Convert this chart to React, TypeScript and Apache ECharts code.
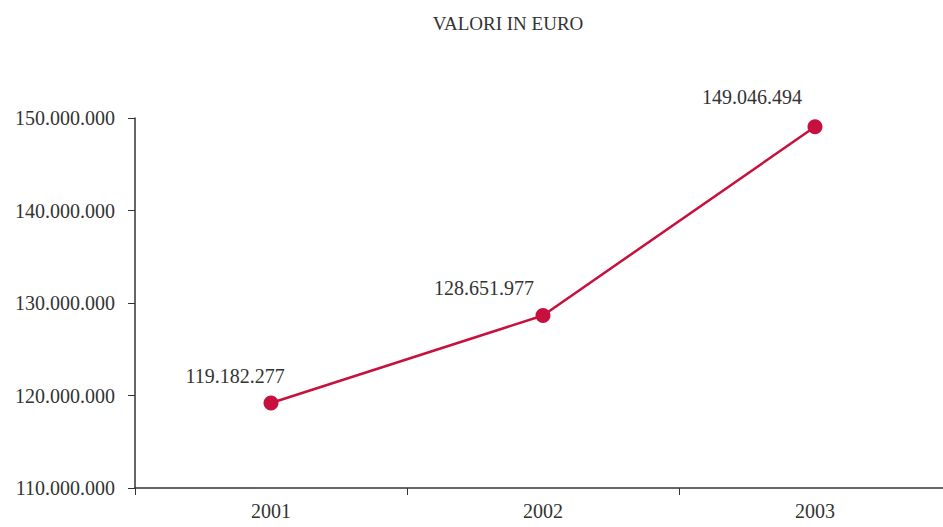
import React, { useEffect, useRef } from "react";
import * as echarts from "echarts";

const years = ["2001", "2002", "2003"];
const values = [119182277, 128651977, 149046494];
const yTicks = [110000000, 120000000, 130000000, 140000000, 150000000];
const title = "VALORI IN EURO";

const labelShift: [number, number][] = [
  [-36, 2],
  [-59, 2],
  [-63, 0],
];

const fmt = (v: number) => String(Math.round(v)).replace(/\B(?=(\d{3})+(?!\d))/g, ".");

export default function App() {
  const ref = useRef<HTMLDivElement>(null);
  useEffect(() => {
    if (!ref.current) return;
    const chart = echarts.init(ref.current, undefined, { renderer: "svg" });
    const font = "'Liberation Serif', 'DejaVu Serif', serif";
    chart.setOption({
      animation: false,
      backgroundColor: "#ffffff",
      title: {
        text: title,
        left: 503,
        top: 9,
        textAlign: "center",
        textStyle: { fontFamily: font, fontSize: 19, fontWeight: "normal", color: "#333" },
      },
      grid: { left: 135, right: 0, top: 118, bottom: 39, containLabel: false },
      xAxis: {
        type: "category",
        data: years,
        boundaryGap: true,
        axisLine: { lineStyle: { color: "#333", width: 1.5 } },
        axisTick: { show: true, length: 7, lineStyle: { color: "#333" } },
        axisLabel: { fontFamily: font, fontSize: 20, color: "#333", margin: 13 },
      },
      yAxis: {
        type: "value",
        min: yTicks[0],
        max: yTicks[yTicks.length - 1],
        interval: 10000000,
        axisLine: { show: true, lineStyle: { color: "#333", width: 1.5 } },
        axisTick: { show: true, length: 7, lineStyle: { color: "#333" } },
        splitLine: { show: false },
        axisLabel: {
          fontFamily: font,
          fontSize: 20,
          color: "#333",
          margin: 20,
          formatter: (v: number) => fmt(v),
        },
      },
      series: [
        {
          type: "line",
          data: values.map((v, i) => ({
            value: v,
            label: { offset: labelShift[i] },
          })),
          symbol: "circle",
          symbolSize: 15,
          itemStyle: { color: "#c8103e" },
          lineStyle: { color: "#c8103e", width: 2.5 },
          label: {
            show: true,
            position: "top",
            distance: 12,
            fontFamily: font,
            fontSize: 20,
            color: "#333",
            formatter: (p: any) => fmt(p.value),
          },
        },
      ],
    });
    return () => chart.dispose();
  }, []);
  return (
    <div style={{ width: 943, height: 527, position: "absolute", left: 0, top: 0, overflow: "hidden" }}>
      <div ref={ref} style={{ width: 951, height: 527, position: "absolute", left: 0, top: 0 }} />
    </div>
  );
}
